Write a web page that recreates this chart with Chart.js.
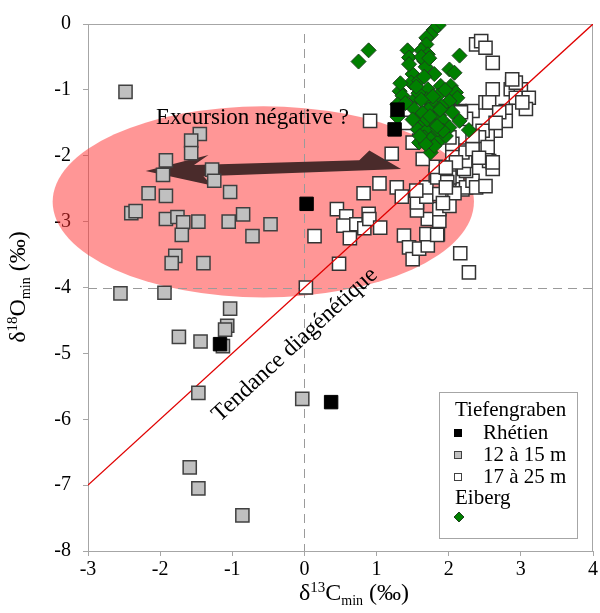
<!DOCTYPE html>
<html>
<head>
<meta charset="utf-8">
<script src="https://cdn.jsdelivr.net/npm/chart.js@4"></script>
<style>
  body { margin: 0; background: #fff; }
  #wrap { width: 600px; height: 613px; }
</style>
</head>
<body>
<div id="wrap"><canvas id="isoChart" width="600" height="613"></canvas></div>
<script>
// axis ranges / ticks
const xRange = [-3, 4];
const yRange = [-8, 0];

// Tiefengraben - Rhétien
const rhetienX = [1.29, 1.25, 0.03, -1.17, 0.37];
const rhetienY = [-1.30, -1.60, -2.73, -4.86, -5.74];

// Tiefengraben - 12 à 15 m
const grayX = [-2.48, -1.45, -1.57, -1.57, -1.92, -1.28, -1.96, -1.25, -2.16, -1.92, -1.03, -2.40, -2.34,
  -1.92, -1.76, -1.68, -1.47, -1.05, -0.85, -0.47, -1.70, -0.72, -1.79, -1.84, -1.40, -2.55, -1.94,
  -1.03, -1.07, -1.10, -1.74, -1.44, -1.13, -1.47, -0.03, -1.59, -1.47, -0.86];
const grayY = [-1.03, -1.67, -1.77, -1.96, -2.07, -2.21, -2.29, -2.38, -2.57, -2.61, -2.55, -2.87, -2.84,
  -2.96, -2.93, -3.01, -3.00, -3.00, -2.89, -3.04, -3.20, -3.22, -3.52, -3.63, -3.63, -4.09, -4.08,
  -4.32, -4.58, -4.64, -4.75, -4.82, -4.89, -5.60, -5.69, -6.73, -7.05, -7.46];

// Tiefengraben - 17 à 25 m
const whiteX = [0.91, 1.21, 1.04, 0.82, 1.28, 1.35, 0.45, 0.58, 0.54, 0.72, 0.83, 0.89, 0.90, 1.05, 0.63,
  0.14, 0.48, 0.02, 1.38, 1.45, 1.50, 1.59, 1.71, 1.69, 1.71, 1.85, 1.87, 1.87, 1.56, 1.56, 1.69, 1.69,
  1.55, 2.01, 2.16, 2.28, 1.82, 2.01, 2.12, 2.19, 2.24, 2.33, 2.38, 2.47, 2.19, 2.33, 2.51, 1.59, 2.10,
  2.24, 2.01, 2.01, 1.84, 1.82, 1.98, 2.51, 2.21, 2.23, 2.19, 2.05, 2.05, 2.01, 2.56, 2.61, 2.51, 2.38,
  2.08, 1.87, 1.92, 2.38, 2.45, 2.51, 2.61, 2.61, 2.88, 2.86, 3.00, 2.93, 3.11, 3.07, 3.02, 2.56, 2.79,
  2.79, 2.70, 2.65, 2.54, 2.15, 2.24, 2.47, 2.42, 2.51, 2.33, 2.10, 2.61, 2.93, 2.88, 2.65, 2.17, 1.41,
  2.33, 2.54, 2.42, 1.96, 1.96, 1.50, 1.84, 1.64];
const whiteY = [-1.47, -1.97, -2.42, -2.57, -2.48, -2.62, -2.81, -2.92, -3.06, -3.04, -3.10, -2.88, -2.96,
  -3.09, -3.25, -3.22, -3.64, -4.00, -3.21, -3.39, -3.57, -3.41, -3.36, -3.19, -2.96, -3.19, -2.99, -2.81,
  -2.83, -2.71, -2.62, -2.48, -2.53, -2.76, -3.48, -3.77, -2.30, -2.56, -2.38, -2.51, -2.48, -2.38, -2.48,
  -1.98, -1.92, -1.32, -1.19, -1.77, -2.18, -2.23, -2.18, -2.33, -2.33, -2.17, -2.40, -2.46, -2.20, -2.08,
  -1.95, -1.98, -1.82, -1.72, -2.08, -2.20, -1.68, -1.77, -2.57, -2.58, -2.72, -0.31, -0.26, -0.36, -0.59,
  -0.99, -0.91, -0.99, -0.99, -1.12, -1.12, -1.29, -1.19, -1.19, -1.32, -1.47, -1.34, -1.62, -1.70, -1.32,
  -1.44, -1.62, -1.72, -1.90, -1.90, -2.10, -2.10, -0.89, -0.84, -1.50, -1.34, -1.50, -1.70, -1.87, -2.03,
  -2.18, -2.48, -1.80, -3.20, -2.05];

// Eiberg
const eibergX = [0.75, 0.89, 1.86, 1.79, 1.75, 1.69, 1.69, 1.62, 1.43, 1.45, 1.71, 2.15, 1.66, 1.68, 2.01,
  2.08, 1.80, 1.50, 1.48, 1.59, 1.71, 1.89, 2.03, 2.10, 2.12, 1.32, 1.36, 1.55, 1.69, 1.85, 1.80, 1.96,
  2.01, 1.52, 1.69, 1.29, 1.29, 1.59, 1.87, 2.05, 2.15, 1.64, 1.78, 1.92, 2.01, 1.57, 1.69, 1.82, 1.66,
  1.75, 1.87, 1.59, 1.75, 1.75, 2.28, 1.96, 1.45, 1.62, 1.73, 1.33, 1.40, 1.58, 1.72, 1.85, 1.64, 1.95,
  1.70, 1.50, 1.80, 1.90, 1.55, 1.62, 1.78, 1.92, 1.68, 1.84, 1.60, 1.74, 1.88, 1.66];
const eibergY = [-0.57, -0.40, -0.02, -0.09, -0.16, -0.21, -0.31, -0.40, -0.40, -0.51, -0.46, -0.48, -0.56,
  -0.65, -0.69, -0.74, -0.76, -0.76, -0.89, -0.86, -0.99, -0.94, -0.94, -1.04, -1.12, -1.02, -1.09, -1.12,
  -1.14, -1.09, -1.24, -1.24, -1.17, -1.29, -1.32, -1.22, -1.41, -1.42, -1.39, -1.34, -1.47, -1.52, -1.52,
  -1.47, -1.57, -1.60, -1.62, -1.67, -1.72, -1.75, -1.77, -1.80, -1.87, -1.95, -1.61, -1.70, -0.61, -0.50,
  -0.52, -0.90, -1.20, -1.05, -1.30, -1.60, -1.35, -1.00, -1.45, -1.45, -1.85, -1.25, -0.95, -1.15, -1.10,
  -1.62, -1.82, -1.55, -1.70, -1.40, -1.30, -0.80];

// diagenetic trend (y = x - 4)
const trendX = [-3, 4];
const trendY = [-7, 0];

// annotations (data units)
const ellipseCenter = [-0.57, -2.70];
const ellipseRadius = [2.92, 1.45];
const arrowX = [-2.20, -1.33, -1.53, 0.76, 0.90, 1.34, -1.40, -1.28];
const arrowY = [-2.23, -1.99, -2.14, -2.07, -1.92, -2.20, -2.31, -2.45];

const toPoints = (xs, ys) => xs.map((x, i) => ({ x: x, y: ys[i] }));

const FONT = '"Liberation Serif", "DejaVu Serif", serif';
const AXIS_GRAY = '#a6a6a6';

// draw text made of pieces (super/subscripts), centred on x,y
function richText(ctx, parts, x, y, angle) {
    ctx.save();
    ctx.translate(x, y);
    ctx.rotate(angle || 0);
    ctx.textBaseline = 'alphabetic';
    ctx.textAlign = 'left';
    let total = 0;
    parts.forEach(p => {
        ctx.font = p.size + 'px ' + FONT;
        total += ctx.measureText(p.t).width;
    });
    let cx = -total / 2;
    parts.forEach(p => {
        ctx.font = p.size + 'px ' + FONT;
        ctx.fillStyle = '#000';
        ctx.fillText(p.t, cx, 7 + (p.dy || 0));
        cx += ctx.measureText(p.t).width;
    });
    ctx.restore();
}

const annotations = {
    id: 'annotations',
    beforeDatasetsDraw(chart) {
        const { ctx, chartArea: a, scales: { x, y } } = chart;
        ctx.save();
        // frame
        ctx.strokeStyle = AXIS_GRAY;
        ctx.lineWidth = 1;
        ctx.strokeRect(a.left + 0.5, a.top + 0.5, a.right - a.left - 1, a.bottom - a.top);

        // pink ellipse
        const cx = x.getPixelForValue(ellipseCenter[0]);
        const cy = y.getPixelForValue(ellipseCenter[1]);
        const rx = x.getPixelForValue(ellipseCenter[0] + ellipseRadius[0]) - cx;
        const ry = cy - y.getPixelForValue(ellipseCenter[1] + ellipseRadius[1]);
        ctx.fillStyle = 'rgba(255, 45, 45, 0.5)';
        ctx.beginPath();
        ctx.ellipse(cx, cy, rx, ry, 0, 0, Math.PI * 2);
        ctx.fill();

        // dashed reference lines
        ctx.strokeStyle = '#9a9a9a';
        ctx.setLineDash([9, 6]);
        ctx.beginPath();
        const x0 = Math.round(x.getPixelForValue(0)) + 0.5;
        const y4 = Math.round(y.getPixelForValue(-4)) + 0.5;
        ctx.moveTo(x0, a.top + 10);
        ctx.lineTo(x0, a.bottom);
        ctx.moveTo(a.left, y4);
        ctx.lineTo(a.right, y4);
        ctx.stroke();
        ctx.setLineDash([]);

        // arrow
        ctx.fillStyle = '#4a2b2b';
        ctx.beginPath();
        arrowX.forEach((v, i) => {
            const px = x.getPixelForValue(v), py = y.getPixelForValue(arrowY[i]);
            if (i === 0) ctx.moveTo(px, py); else ctx.lineTo(px, py);
        });
        ctx.closePath();
        ctx.fill();
        ctx.restore();
    },
    afterDatasetsDraw(chart) {
        const { ctx, scales: { x, y } } = chart;
        richText(ctx, [{ t: 'Excursion négative ?', size: 23 }],
            x.getPixelForValue(-0.72), y.getPixelForValue(-1.41));
        richText(ctx, [{ t: 'Tendance diagénétique', size: 23.5 }],
            x.getPixelForValue(-0.14), y.getPixelForValue(-4.86), -0.745);
    },
    afterDraw(chart) {
        const ctx = chart.ctx;
        // axis titles
        richText(ctx, [
            { t: 'δ', size: 24 }, { t: '13', size: 15, dy: -8 }, { t: 'C', size: 24 },
            { t: 'min', size: 14, dy: 5 }, { t: ' (‰)', size: 24 }
        ], 354, 593);
        richText(ctx, [
            { t: 'δ', size: 24 }, { t: '18', size: 15, dy: -8 }, { t: 'O', size: 24 },
            { t: 'min', size: 14, dy: 5 }, { t: ' (‰)', size: 24 }
        ], 18, 287, -Math.PI / 2);

        // legend box
        ctx.save();
        ctx.fillStyle = '#fff';
        ctx.strokeStyle = AXIS_GRAY;
        ctx.lineWidth = 1;
        ctx.fillRect(439.5, 392.5, 138, 146);
        ctx.strokeRect(439.5, 392.5, 138, 146);
        ctx.fillStyle = '#000';
        ctx.font = '21px ' + FONT;
        ctx.textBaseline = 'middle';
        ctx.fillText('Tiefengraben', 455, 410);
        const rows = [
            { label: 'Rhétien', fill: '#000', stroke: '#000', y: 433 },
            { label: '12 à 15 m', fill: '#c0c0c0', stroke: '#404040', y: 455 },
            { label: '17 à 25 m', fill: '#fff', stroke: '#404040', y: 477 }
        ];
        rows.forEach(r => {
            ctx.fillStyle = r.fill;
            ctx.strokeStyle = r.stroke;
            ctx.fillRect(454, r.y - 4, 8, 8);
            ctx.strokeRect(454.5, r.y - 3.5, 7, 7);
            ctx.fillStyle = '#000';
            ctx.fillText(r.label, 483, r.y);
        });
        ctx.fillText('Eiberg', 455, 498);
        ctx.fillStyle = '#008000';
        ctx.strokeStyle = '#1d401d';
        ctx.beginPath();
        ctx.moveTo(459, 512); ctx.lineTo(464, 517); ctx.lineTo(459, 522); ctx.lineTo(454, 517);
        ctx.closePath();
        ctx.fill();
        ctx.stroke();
        ctx.restore();
    }
};

const tickFont = { family: FONT, size: 20 };

new Chart(document.getElementById('isoChart'), {
    type: 'scatter',
    data: {
        datasets: [
            {
                label: 'Rhétien',
                data: toPoints(rhetienX, rhetienY),
                pointStyle: 'rect',
                pointRadius: 9.5,
                backgroundColor: '#000',
                borderColor: '#000',
                borderWidth: 1
            },
            {
                label: '12 à 15 m',
                data: toPoints(grayX, grayY),
                pointStyle: 'rect',
                pointRadius: 9.3,
                backgroundColor: '#c0c0c0',
                borderColor: '#404040',
                borderWidth: 1.5
            },
            {
                label: 'Eiberg',
                data: toPoints(eibergX, eibergY),
                pointStyle: 'rectRot',
                pointRadius: 7.5,
                backgroundColor: '#008000',
                borderColor: '#1d401d',
                borderWidth: 1
            },
            {
                type: 'line',
                label: 'trend',
                data: toPoints(trendX, trendY),
                borderColor: '#e00000',
                borderWidth: 1.3,
                pointRadius: 0,
                fill: false
            },
            {
                label: '17 à 25 m',
                data: toPoints(whiteX, whiteY),
                pointStyle: 'rect',
                pointRadius: 9.3,
                backgroundColor: '#fff',
                borderColor: '#333',
                borderWidth: 1.5
            }
        ]
    },
    options: {
        responsive: false,
        animation: false,
        events: [],
        layout: { autoPadding: false, padding: { top: 23, right: 6, left: 0, bottom: 0 } },
        plugins: {
            legend: { display: false },
            tooltip: { enabled: false }
        },
        scales: {
            x: {
                type: 'linear',
                min: xRange[0],
                max: xRange[1],
                afterFit: scale => { scale.height = 62; },
                ticks: { stepSize: 1, color: '#000', font: tickFont, padding: 2 },
                grid: { drawOnChartArea: false, tickLength: 5, color: AXIS_GRAY },
                border: { color: AXIS_GRAY }
            },
            y: {
                type: 'linear',
                min: yRange[0],
                max: yRange[1],
                afterFit: scale => { scale.width = 88; },
                ticks: { stepSize: 1, color: '#000', font: tickFont, padding: 12 },
                grid: { drawOnChartArea: false, tickLength: 5, color: AXIS_GRAY },
                border: { color: AXIS_GRAY }
            }
        }
    },
    plugins: [annotations]
});
</script>
</body>
</html>
